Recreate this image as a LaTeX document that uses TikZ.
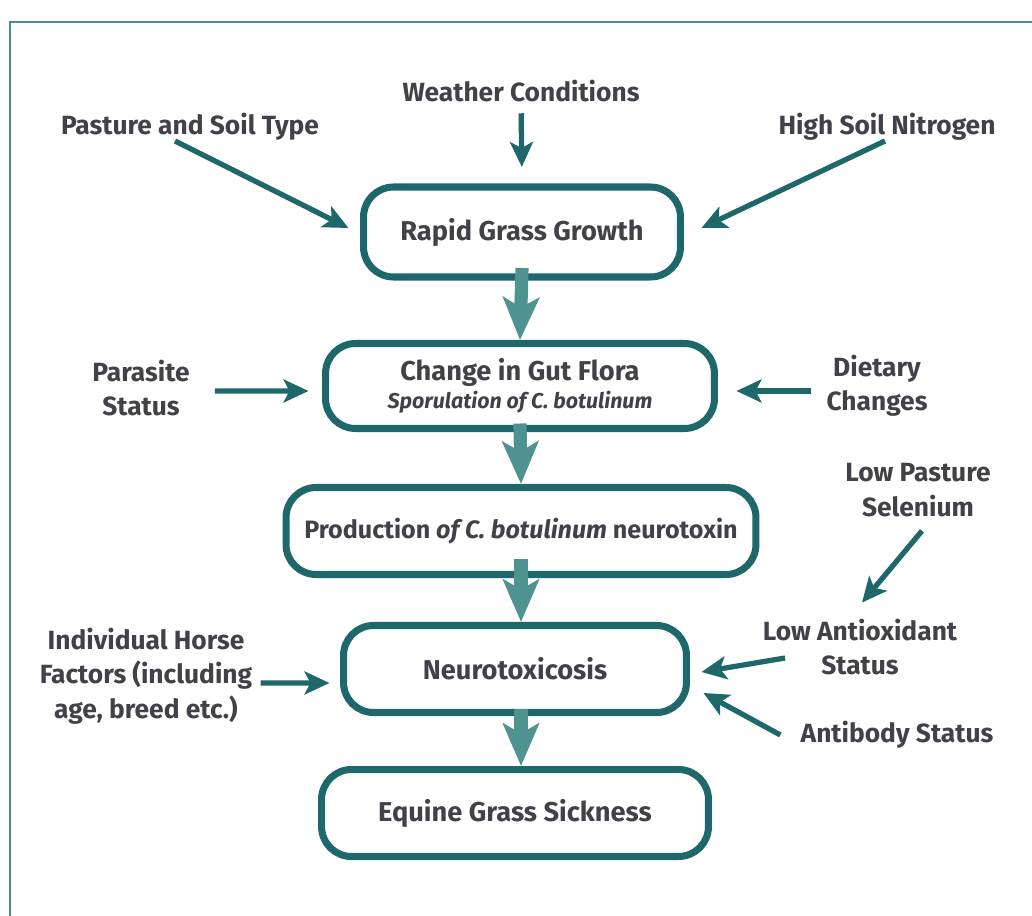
\documentclass[tikz,border=0pt]{standalone}
\usepackage{fontspec}
\setmainfont{Fira Sans}
\usepackage{tikz}
\usetikzlibrary{arrows.meta,positioning}
\definecolor{egsdark}{HTML}{1E676A}
\definecolor{egslight}{HTML}{4F9391}
\definecolor{egsframe}{HTML}{4B8C89}
\definecolor{egstext}{HTML}{414149}
\tikzset{
  egsbox/.style={draw=egsdark, line width=4pt, rounded corners=0.6cm, align=center,
    text=egstext, font=\bfseries\fontsize{15.5}{18}\selectfont},
  egslabel/.style={inner sep=0pt, align=center, text=egstext,
    font=\bfseries\fontsize{15}{19.5}\selectfont},
  egsarrow/.style={draw=egsdark, line width=3pt,
    -{Stealth[length=0.5cm, width=0.46cm, inset=0.12cm]}},
  egsflow/.style={draw=egslight, line width=7.5pt,
    -{Stealth[length=0.85cm, width=0.72cm, inset=0.2cm]}},
}
\begin{document}
\begin{tikzpicture}[x=0.02cm, y=-0.02cm]
  \useasboundingbox (0,0) rectangle (1032,916);
  % open frame, top and left sides only
  \draw[egsframe, line width=1.7pt] (1040,22) -- (10,22) -- (10,930);

  % main chain
  \node[egsbox, minimum width=6.34cm, minimum height=1.8cm] (grow) at (522,232)
    {Rapid Grass Growth};
  \node[egsbox, minimum width=7.78cm, minimum height=1.7cm] (flora) at (520,386)
    {Change in Gut Flora\\[-2pt]
     {\fontsize{12.2}{14}\selectfont\itshape Sporulation of C. botulinum}};
  \node[egsbox, minimum width=9.4cm, minimum height=1.74cm,
    font=\bfseries\fontsize{14.3}{16}\selectfont] (prod) at (521,531)
    {Production \textit{of C. botulinum} neurotoxin};
  \node[egsbox, minimum width=6.86cm, minimum height=1.74cm] (neuro) at (515,669)
    {Neurotoxicosis};
  \node[egsbox, minimum width=7.74cm, minimum height=1.74cm] (sick) at (515,813)
    {Equine Grass Sickness};

  % contributing factors
  \node[egslabel] (weather) at (521,91) {Weather Conditions};
  \node[egslabel] (pasture) at (190,127) {Pasture and Soil Type};
  \node[egslabel] (nitrogen) at (887,127) {High Soil Nitrogen};
  \node[egslabel] (parasite) at (141,388) {Parasite\\Status};
  \node[egslabel] (dietary) at (877,386) {Dietary\\Changes};
  \node[egslabel] (selenium) at (918,490) {Low Pasture\\Selenium};
  \node[egslabel] (antiox) at (860,647) {Low Antioxidant\\Status};
  \node[egslabel] (horse) at (146,676) {Individual Horse\\Factors (including\\age, breed etc.)};
  \node[egslabel] (antibody) at (897,735) {Antibody Status};

  % thick flow arrows
  \draw[egsflow] ([yshift=0.25cm]grow.south) -- (flora.north);
  \draw[egsflow] ([yshift=0.17cm]flora.south) -- (prod.north);
  \draw[egsflow] ([yshift=0.39cm]prod.south) -- (prod.south |- neuro.north);
  \draw[egsflow] ([yshift=0.15cm]prod.south |- neuro.south) -- (prod.south |- sick.north);

  % factor arrows
  \draw[egsarrow, shorten <=0.22cm, shorten >=0.33cm] (weather.south) -- (grow.north);
  \draw[egsarrow] ([xshift=-0.3cm]pasture.south) -- ([xshift=-0.23cm, yshift=0.08cm]grow.west);
  \draw[egsarrow] ([xshift=-0.04cm]nitrogen.south) -- ([xshift=0.35cm, yshift=0.08cm]grow.east);
  \draw[egsarrow, shorten <=0.5cm, shorten >=0.27cm]
    ([yshift=-0.06cm]parasite.east) -- ([yshift=-0.1cm]flora.west);
  \draw[egsarrow, shorten <=0.3cm, shorten >=0.37cm]
    ([yshift=-0.1cm]dietary.west) -- ([yshift=-0.1cm]flora.east);
  \draw[egsarrow] ([xshift=0.08cm, yshift=-0.28cm]selenium.south) -- ([xshift=0.04cm, yshift=0.32cm]antiox.north);
  \draw[egsarrow] ([xshift=0.45cm, yshift=-0.22cm]antiox.west) -- ([xshift=0.23cm, yshift=-0.06cm]neuro.east);
  \draw[egsarrow] ([xshift=-0.4cm]antibody.west) -- ([xshift=0.27cm, yshift=-0.48cm]neuro.east);
  \draw[egsarrow] ([xshift=0.16cm, yshift=-0.14cm]horse.east) -- ([xshift=-0.21cm, yshift=-0.28cm]neuro.west);
\end{tikzpicture}
\end{document}
